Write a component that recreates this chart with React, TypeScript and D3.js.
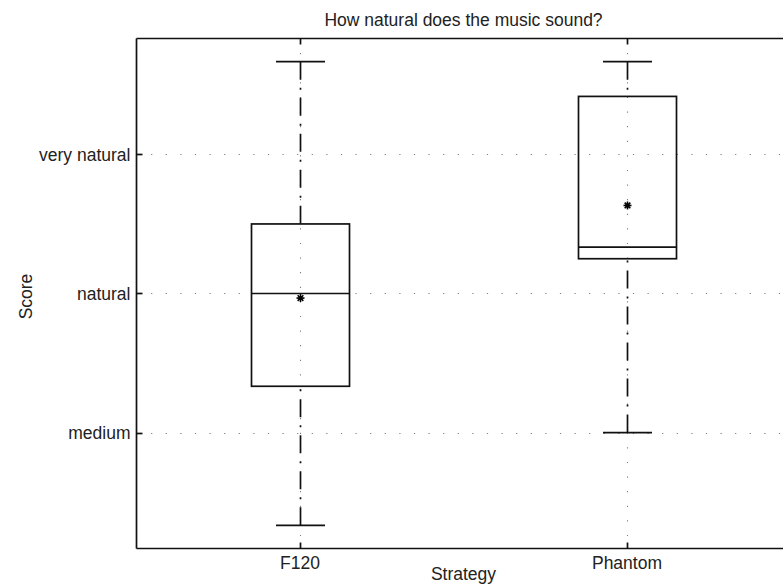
import React from "react";
import * as d3 from "d3";

// Box-plot summary statistics per strategy (score scale: 3 = medium, 4 = natural, 5 = very natural)
const categories = ["F120", "Phantom"];
const whiskerLow = [2.333, 3.0];
const q1 = [3.333, 4.25];
const median = [4.0, 4.333];
const q3 = [4.5, 5.417];
const whiskerHigh = [5.667, 5.667];
const means = [3.967, 4.633];

const yTickValues = [3, 4, 5];
const yTickLabels = ["medium", "natural", "very natural"];

const W = 783;
const H = 584;
const left = 136.5;
const right = 790.5;
const top = 38.5;
const bottom = 548.5;

const FONT = "'Liberation Sans', Arial, Helvetica, sans-serif";
const TEXT = "#222";
const FS = 17.5;

export default function App() {
  const x = d3.scaleLinear().domain([0.5, categories.length + 0.5]).range([left, right]);
  const y = d3.scaleLinear().domain([13 / 6, 35 / 6]).range([bottom, top]);

  const boxHalf = 49;
  const capHalf = 24.5;
  const tickLen = 6;

  const star = (cx: number, cy: number, key: string) => {
    const r = 4;
    const lines = [0, 45, 90, 135].map((a) => {
      const rad = (a * Math.PI) / 180;
      return (
        <line
          key={a}
          x1={cx - r * Math.cos(rad)}
          y1={cy - r * Math.sin(rad)}
          x2={cx + r * Math.cos(rad)}
          y2={cy + r * Math.sin(rad)}
          stroke="#000"
          strokeWidth={1.6}
        />
      );
    });
    return (
      <g key={key}>
        {lines}
        <circle cx={cx} cy={cy} r={2.2} fill="#000" />
      </g>
    );
  };

  return (
    <svg
      width={W}
      height={H}
      style={{ position: "absolute", left: 0, top: 0, background: "#fff" }}
      fontFamily={FONT}
    >
      <rect x={0} y={0} width={W} height={H} fill="#fff" />

      {/* grid */}
      <g stroke="#808080" strokeWidth={1.1} strokeDasharray="1.2,13.4">
        {yTickValues.map((v) => (
          <line key={"gy" + v} x1={left} x2={right} y1={Math.round(y(v)) + 0.5} y2={Math.round(y(v)) + 0.5} />
        ))}
        {categories.map((c, i) => (
          <line key={"gx" + c} x1={Math.round(x(i + 1)) + 0.5} x2={Math.round(x(i + 1)) + 0.5} y1={top} y2={bottom} />
        ))}
      </g>

      {/* boxes */}
      {categories.map((c, i) => {
        const cx = Math.round(x(i + 1)) + 0.5;
        return (
          <g key={"box" + c} stroke="#111" fill="none" strokeWidth={1.7}>
            <line x1={cx} x2={cx} y1={y(whiskerHigh[i])} y2={y(q3[i])} strokeDasharray="18,8,2,8" />
            <line x1={cx} x2={cx} y1={y(whiskerLow[i])} y2={y(q1[i])} strokeDasharray="18,8,2,8" />
            <line x1={cx - capHalf} x2={cx + capHalf} y1={y(whiskerHigh[i])} y2={y(whiskerHigh[i])} />
            <line x1={cx - capHalf} x2={cx + capHalf} y1={y(whiskerLow[i])} y2={y(whiskerLow[i])} />
            <rect x={cx - boxHalf} y={y(q3[i])} width={boxHalf * 2} height={y(q1[i]) - y(q3[i])} />
            <line x1={cx - boxHalf} x2={cx + boxHalf} y1={y(median[i])} y2={y(median[i])} />
          </g>
        );
      })}

      {/* means */}
      {categories.map((c, i) => star(Math.round(x(i + 1)) + 0.5, y(means[i]), "m" + c))}

      {/* frame */}
      <g stroke="#111" strokeWidth={1.7} fill="none">
        <line x1={left} x2={left} y1={top} y2={bottom} />
        <line x1={left} x2={W + 5} y1={top} y2={top} />
        <line x1={left} x2={W + 5} y1={bottom} y2={bottom} />
        {yTickValues.map((v) => (
          <line key={"ty" + v} x1={left} x2={left + tickLen} y1={Math.round(y(v)) + 0.5} y2={Math.round(y(v)) + 0.5} />
        ))}
        {categories.map((c, i) => {
          const cx = Math.round(x(i + 1)) + 0.5;
          return (
            <g key={"tx" + c}>
              <line x1={cx} x2={cx} y1={bottom} y2={bottom - tickLen} />
              <line x1={cx} x2={cx} y1={top} y2={top + tickLen} />
            </g>
          );
        })}
      </g>

      {/* tick labels */}
      <g fontSize={FS} fill={TEXT}>
        {yTickValues.map((v, k) => (
          <text key={"ly" + v} x={left - 6} y={y(v)} dy="0.35em" textAnchor="end">
            {yTickLabels[k]}
          </text>
        ))}
        {categories.map((c, i) => (
          <text key={"lx" + c} x={x(i + 1)} y={568.5} textAnchor="middle">
            {c}
          </text>
        ))}
      </g>

      {/* titles */}
      <text x={(left + right) / 2} y={25.5} textAnchor="middle" fontSize={FS} fill={TEXT}>
        How natural does the music sound?
      </text>
      <text x={(left + right) / 2} y={579.5} textAnchor="middle" fontSize={FS} fill={TEXT}>
        Strategy
      </text>
      <text
        transform={`translate(32, ${y(4) + 3}) rotate(-90)`}
        textAnchor="middle"
        fontSize={FS}
        fill={TEXT}
      >
        Score
      </text>
    </svg>
  );
}
